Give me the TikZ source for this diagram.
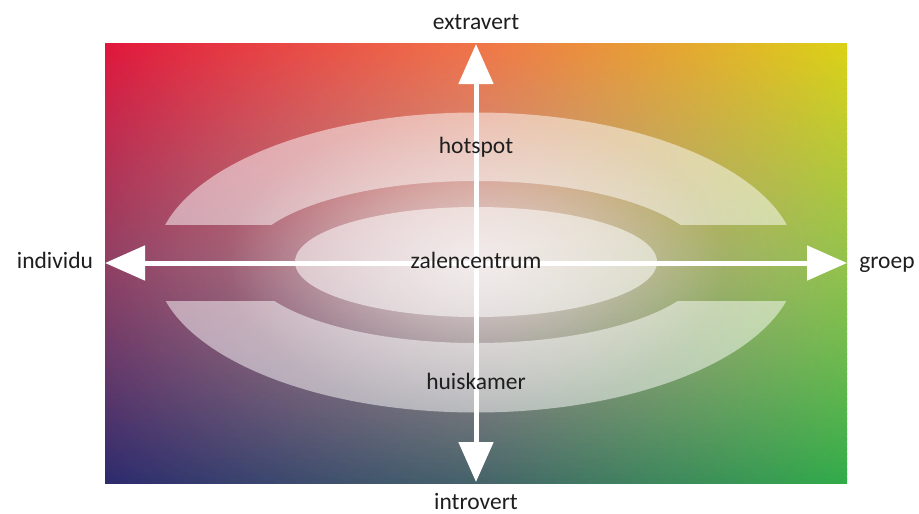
\documentclass[tikz,border=0pt]{standalone}
\usepackage{fontspec}
\setmainfont{Carlito}
\usetikzlibrary{arrows.meta,fadings}

% colour field: three rows of three colours (left, centre, right)
\definecolor{cTL}{RGB}{222,0,42}
\definecolor{cTM}{RGB}{238,92,40}
\definecolor{cTR}{RGB}{216,206,0}
\definecolor{cML}{RGB}{125,30,72}
\definecolor{cMM}{RGB}{158,108,108}
\definecolor{cMR}{RGB}{128,184,44}
\definecolor{cBL}{RGB}{26,22,96}
\definecolor{cBM}{RGB}{38,72,80}
\definecolor{cBR}{RGB}{30,164,56}
\definecolor{ink}{RGB}{30,30,30}

% soft light in the middle of the field
\tikzfading[name=wideglow, inner color=transparent!70, outer color=transparent!100]
\tikzfading[name=coreglow, inner color=transparent!40, outer color=transparent!100]

\tikzset{
  label/.style={font=\fontsize{23.5}{26}\selectfont, text=ink, inner sep=0pt, anchor=base},
  ringpart/.style={fill=white, fill opacity=0.5, even odd rule},
  core/.style={fill=white, fill opacity=0.55},
  axis/.style={draw=white, line width=5pt,
    {Triangle[width=34pt,length=40pt]}-{Triangle[width=34pt,length=40pt]}}
}

\begin{document}
\begin{tikzpicture}[x=1pt,y=-1pt]
\useasboundingbox (0,0) rectangle (919,514);

% colour field, built from thin horizontal strips
\begin{scope}
  \clip (105,43) rectangle (847,483);
  % upper half: top row blends into middle row
  \foreach \i in {0,...,43} {
    \pgfmathsetmacro\p{100*\i/43}
    \pgfmathsetmacro\ya{43+5*\i}
    \colorlet{sl}{cML!\p!cTL}\colorlet{sm}{cMM!\p!cTM}\colorlet{sr}{cMR!\p!cTR}
    \fill[left color=sl, right color=sm] (105,\ya) rectangle (477,\ya+6);
    \fill[left color=sm, right color=sr] (476,\ya) rectangle (847,\ya+6);
  }
  % lower half: middle row blends into bottom row
  \foreach \i in {0,...,43} {
    \pgfmathsetmacro\p{100*\i/43}
    \pgfmathsetmacro\ya{263+5*\i}
    \colorlet{sl}{cBL!\p!cML}\colorlet{sm}{cBM!\p!cMM}\colorlet{sr}{cBR!\p!cMR}
    \fill[left color=sl, right color=sm] (105,\ya) rectangle (477,\ya+6);
    \fill[left color=sm, right color=sr] (476,\ya) rectangle (847,\ya+6);
  }
  \fill[white, path fading=wideglow] (-266,-177) rectangle (1218,703);
  \fill[white, path fading=coreglow] (226,113) rectangle (726,413);
\end{scope}

% outer ring, upper half
\begin{scope}
  \clip (105,43) rectangle (847,224);
  \path[ringpart] (476,262.5) ellipse [x radius=321, y radius=150]
                  (476,262) ellipse [x radius=230, y radius=81];
\end{scope}
% outer ring, lower half
\begin{scope}
  \clip (105,301) rectangle (847,483);
  \path[ringpart] (476,262.5) ellipse [x radius=321, y radius=150]
                  (476,262) ellipse [x radius=230, y radius=81];
\end{scope}
% inner zone
\path[core] (476,262) ellipse [x radius=181, y radius=55];

% axis ends
\coordinate (top) at (476,44);
\coordinate (bottom) at (476,482);
\coordinate (left) at (105,263);
\coordinate (right) at (847,263);

\draw[axis] (bottom) -- (top);
\draw[axis] (left) -- (right);

% labels
\node[label] (hotspot) at (476,153) {hotspot};
\node[label] (zalen) at (476,268) {zalencentrum};
\node[label] (huis) at (476,389) {huiskamer};
\node[label] (extra) at (476,30) {extravert};
\node[label] (intro) at (476,509) {introvert};
\node[label] (indiv) at (55,268) {individu};
\node[label] (groep) at (887,268) {groep};
\end{tikzpicture}
\end{document}
